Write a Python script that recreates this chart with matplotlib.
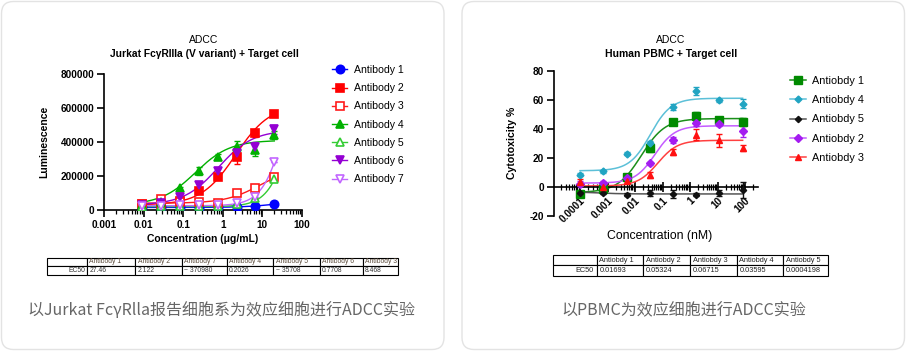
import numpy as np
import matplotlib
matplotlib.use('Agg')
import matplotlib.pyplot as plt
from matplotlib.patches import FancyBboxPatch
from matplotlib.lines import Line2D
import matplotlib.ticker as mticker

plt.rcParams['font.family'] = ['Liberation Sans', 'DejaVu Sans']

# ---------------- Left chart data (Jurkat reporter) ----------------
left_conc = [0.0091, 0.027, 0.082, 0.247, 0.74, 2.22, 6.67, 20]
left_labels = ['Antibody 1', 'Antibody 2', 'Antibody 3', 'Antibody 4',
               'Antibody 5', 'Antibody 6', 'Antibody 7']
ab1 = [15000, 16000, 15000, 14000, 16000, 18000, 23000, 36000]
ab2 = [33000, 38000, 53000, 114000, 196000, 310000, 451000, 567000]
ab3 = [35000, 65000, 49000, 45000, 43000, 98000, 128000, 192000]
ab4 = [30000, 45000, 128000, 229000, 314000, 373000, 353000, 441000]
ab5 = [20000, 22000, 22000, 22000, 25000, 35000, 69000, 185000]
ab6 = [28000, 40000, 75000, 147000, 231000, 335000, 372000, 475000]
ab7 = [25000, 25000, 28000, 28000, 30000, 39000, 78000, 284000]
ab1_err = [0, 0, 0, 0, 0, 0, 0, 0]
ab2_err = [0, 0, 0, 10000, 15000, 40000, 20000, 10000]
ab3_err = [0, 0, 0, 0, 0, 0, 0, 0]
ab4_err = [0, 0, 10000, 25000, 15000, 30000, 35000, 25000]
ab5_err = [0, 0, 0, 0, 0, 0, 0, 0]
ab6_err = [0, 0, 0, 15000, 15000, 30000, 30000, 25000]
ab7_err = [0, 0, 0, 0, 0, 0, 0, 0]
# fitted 4PL parameters: bottom, top, EC50, hill
left_fit_bottom = [15000, 30000, 40000, 30000, 20000, 30000, 25000]
left_fit_top = [60000, 620000, 250000, 410000, 1000000, 470000, 1000000]
left_fit_ec50 = [27.46, 2.122, 8.468, 0.2026, 60, 0.7708, 40]
left_fit_hill = [1.0, 1.0, 1.0, 1.0, 1.5, 1.0, 1.5]
left_xticks = [0.001, 0.01, 0.1, 1, 10, 100]
left_xticklabels = ['0.001', '0.01', '0.1', '1', '10', '100']
left_yticks = [0, 200000, 400000, 600000, 800000]
left_table_head = ['', 'Antibody 1', 'Antibody 2', 'Antibody 7', 'Antibody 4',
                   'Antibody 5', 'Antibody 6', 'Antibody 3']
left_table_vals = ['EC50', '27.46', '2.122', '~ 370980', '0.2026', '~ 35708',
                   '0.7708', '8.468']

# ---------------- Right chart data (PBMC) ----------------
right_conc = [0.0001, 0.0007, 0.0049, 0.034, 0.24, 1.68, 11.8, 82]
right_labels = ['Antiobdy 1', 'Antiobdy 4', 'Antiobdy 5', 'Antiobdy 2', 'Antiobdy 3']
r1 = [-4.9, -1.4, 6.7, 26.7, 44.7, 48.6, 46.3, 44.7]
r4 = [8.3, 10.6, 22.8, 29.8, 54.7, 66.0, 59.7, 57.2]
r5 = [-4.0, -4.0, -5.5, -4.5, -5.0, -5.5, -4.5, -2.0]
r2 = [2.1, 2.8, 6.2, 16.3, 32.0, 43.6, 43.1, 38.3]
r3 = [3.2, -0.5, 4.0, 7.8, 24.0, 36.0, 32.0, 26.7]
r1_err = [1.5, 1.5, 2.0, 2.5, 2.0, 3.0, 1.5, 3.0]
r4_err = [1.0, 1.0, 1.0, 1.5, 2.0, 3.0, 1.0, 3.0]
r5_err = [1.0, 1.0, 1.0, 2.0, 2.5, 1.0, 2.0, 5.5]
r2_err = [1.5, 1.0, 1.0, 1.0, 2.0, 2.0, 1.5, 4.0]
r3_err = [2.0, 1.5, 1.0, 2.0, 2.0, 3.5, 4.5, 2.0]
right_fit_bottom = [-4.0, 11.0, -3.5, 2.5, 0.5]
right_fit_top = [47.0, 61.0, -5.0, 42.0, 32.0]
right_fit_ec50 = [0.0169, 0.036, 0.00042, 0.053, 0.067]
right_fit_hill = [1.0, 1.15, 1.0, 1.2, 1.2]
right_xticks = [0.0001, 0.001, 0.01, 0.1, 1, 10, 100]
right_xticklabels = ['0.0001', '0.001', '0.01', '0.1', '1', '10', '100']
right_yticks = [-20, 0, 20, 40, 60, 80]
right_table_head = ['', 'Antiobdy 1', 'Antiobdy 2', 'Antiobdy 3', 'Antiobdy 4', 'Antiobdy 5']
right_table_vals = ['EC50', '0.01693', '0.05324', '0.06715', '0.03595', '0.0004198']

caption_left = '以Jurkat FcγRlla报告细胞系为效应细胞进行ADCC实验'
caption_right = '以PBMC为效应细胞进行ADCC实验'

# ---------------- Figure ----------------
W, H = 906, 352
fig = plt.figure(figsize=(W / 100, H / 100), dpi=100)
fig.patch.set_facecolor('white')


def fx(px):
    return px / W


def fy(py):
    return 1 - py / H


bg = fig.add_axes([0, 0, 1, 1], zorder=-5)
bg.set_xlim(0, W)
bg.set_ylim(H, 0)
bg.axis('off')
for x0, x1 in [(1.5, 444), (462, 904.5)]:
    bg.add_patch(FancyBboxPatch((x0, 1.5), x1 - x0, 348, boxstyle='round,pad=0,rounding_size=12',
                                fc='white', ec='#e3e3e3', lw=1.0))


def fourpl(x, b, t, ec, h):
    return b + (t - b) / (1 + (ec / x) ** h)


TICKFS = 7.2
# ---------------- Left axes ----------------
axL = fig.add_axes([fx(104), fy(210), fx(302 - 104), (210 - 74) / H])
left_series = [ab1, ab2, ab3, ab4, ab5, ab6, ab7]
left_errs = [ab1_err, ab2_err, ab3_err, ab4_err, ab5_err, ab6_err, ab7_err]
left_colors = ['#0000ff', '#ff0000', '#ff1a1a', '#00b000', '#33cc33', '#9400d3', '#c266ff']
left_markers = ['o', 's', 's', '^', '^', 'v', 'v']
left_filled = [True, True, False, True, False, True, False]
xs = np.logspace(np.log10(left_conc[0]), np.log10(left_conc[-1]), 200)
handles = []
for i, ys in enumerate(left_series):
    c = left_colors[i]
    mfc = c if left_filled[i] else 'white'
    axL.plot(xs, fourpl(xs, left_fit_bottom[i], left_fit_top[i], left_fit_ec50[i], left_fit_hill[i]),
             color=c, lw=1.0, zorder=2)
    axL.errorbar(left_conc, ys, yerr=left_errs[i], fmt='none', ecolor=c, elinewidth=1.0,
                 capsize=2.5, capthick=1.0, zorder=3)
    axL.plot(left_conc, ys, ls='none', marker=left_markers[i], ms=6, mfc=mfc, mec=c,
             mew=1.2, zorder=4)
    handles.append(Line2D([], [], color=c, lw=1.0, marker=left_markers[i], ms=6, mfc=mfc,
                          mec=c, mew=1.2))

axL.set_xscale('log')
axL.set_xlim(0.001, 100)
axL.set_ylim(0, 800000)
axL.set_xticks(left_xticks)
axL.set_xticklabels(left_xticklabels)
axL.xaxis.set_minor_locator(mticker.LogLocator(base=10, subs=np.arange(2, 10)))
axL.xaxis.set_minor_formatter(mticker.NullFormatter())
axL.set_yticks(left_yticks)
axL.set_yticklabels([str(v) for v in left_yticks])
for s in ['top', 'right']:
    axL.spines[s].set_visible(False)
for s in ['left', 'bottom']:
    axL.spines[s].set_linewidth(1.2)
axL.tick_params(axis='both', which='major', length=5, width=1.2, labelsize=TICKFS, pad=2)
axL.tick_params(axis='x', which='minor', length=3, width=0.9)
for lab in axL.get_xticklabels() + axL.get_yticklabels():
    lab.set_fontweight('bold')
axL.set_xlabel('Concentration (μg/mL)', fontsize=7.5, fontweight='bold', labelpad=3)
axL.set_ylabel('Luminescence', fontsize=7.5, fontweight='bold', labelpad=8)
axL.patch.set_alpha(0)
fig.text(fx(204), fy(40), 'ADCC', ha='center', va='center', fontsize=7.5)
fig.text(fx(204), fy(54), 'Jurkat FcγRIIIa (V variant) + Target cell', ha='center',
         va='center', fontsize=7.4, fontweight='bold')
axL.legend(handles, left_labels, loc='upper left', bbox_to_anchor=(fx(332), fy(65)),
           bbox_transform=fig.transFigure, frameon=False, fontsize=7.6, handlelength=1.45,
           handletextpad=0.6, labelspacing=0.78, borderpad=0, borderaxespad=0)

# left table
axTL = fig.add_axes([fx(47), fy(275), fx(398 - 47), (275 - 257.5) / H])
axTL.axis('off')
lw_cols = [40, 48.3, 46.7, 45, 46.6, 46.7, 43.3, 34.7]
tot = sum(lw_cols)
tl = axTL.table(cellText=[left_table_head, left_table_vals], colWidths=[w / tot for w in lw_cols],
                bbox=[0, 0, 1, 1], cellLoc='left')
tl.auto_set_font_size(False)
for (r, c), cell in tl.get_celld().items():
    cell.set_linewidth(0.8)
    cell.set_edgecolor('black')
    cell.get_text().set_fontsize(4.9)
    cell.PAD = 0.05
    if r == 0:
        cell.get_text().set_color('#5a4a3a')
    else:
        cell.get_text().set_color('#333333')
    if c == 0:
        cell.get_text().set_ha('right')
        cell._loc = 'right'

# ---------------- Right axes ----------------
axR = fig.add_axes([fx(554), fy(215.7), fx(758 - 554), (215.7 - 70.7) / H])
right_series = [r1, r4, r5, r2, r3]
right_errs = [r1_err, r4_err, r5_err, r2_err, r3_err]
right_colors = ['#008a00', '#21a4c2', '#111111', '#a41cf0', '#ff1010']
right_line_colors = ['#1a8f1a', '#5cc0d8', '#555555', '#c45cff', '#ff4040']
right_markers = ['s', 'D', 'D', 'D', '^']
right_ms = [5.5, 3.5, 3.2, 3.8, 5.0]
xr = np.logspace(np.log10(right_conc[0]), np.log10(right_conc[-1]), 200)
rhandles = []
for i, ys in enumerate(right_series):
    c = right_colors[i]
    axR.plot(xr, fourpl(xr, right_fit_bottom[i], right_fit_top[i], right_fit_ec50[i], right_fit_hill[i]),
             color=right_line_colors[i], lw=1.1, zorder=2)
    axR.errorbar(right_conc, ys, yerr=right_errs[i], fmt='none', ecolor=c, elinewidth=1.0,
                 capsize=2.5, capthick=1.0, zorder=3)
    axR.plot(right_conc, ys, ls='none', marker=right_markers[i], ms=right_ms[i], mfc=c, mec=c,
             zorder=4)
    rhandles.append(Line2D([], [], color=right_line_colors[i], lw=1.1, marker=right_markers[i],
                           ms=right_ms[i], mfc=c, mec=c))

axR.set_xscale('log')
axR.set_xlim(1.13e-5, 297)
axR.set_ylim(-20, 80)
axR.set_xticks(right_xticks)
axR.set_xticklabels(right_xticklabels)
axR.xaxis.set_minor_locator(mticker.LogLocator(base=10, subs=np.arange(2, 10), numticks=20))
axR.xaxis.set_minor_formatter(mticker.NullFormatter())
axR.set_yticks(right_yticks)
axR.set_yticklabels([str(v) for v in right_yticks])
for s in ['top', 'right']:
    axR.spines[s].set_visible(False)
axR.spines['bottom'].set_position(('data', 0))
for s in ['left', 'bottom']:
    axR.spines[s].set_linewidth(1.2)
axR.tick_params(axis='y', which='major', length=5, width=1.2, labelsize=TICKFS, pad=2)
axR.tick_params(axis='x', which='major', direction='inout', length=7, width=1.2,
                labelsize=TICKFS, pad=3, labelrotation=45)
axR.tick_params(axis='x', which='minor', direction='inout', length=4, width=0.9)
for lab in axR.get_xticklabels():
    lab.set_fontweight('bold')
    lab.set_rotation(45)
    lab.set_ha('right')
    lab.set_va('top')
    lab.set_rotation_mode('anchor')
for lab in axR.get_yticklabels():
    lab.set_fontweight('bold')
axR.set_ylabel('Cytotoxicity %', fontsize=7.6, fontweight='bold', labelpad=9)
axR.patch.set_alpha(0)
fig.text(fx(660), fy(236), 'Concentration (nM)', ha='center', va='center', fontsize=8.8)
fig.text(fx(671), fy(40), 'ADCC', ha='center', va='center', fontsize=7.5)
fig.text(fx(671), fy(54), 'Human PBMC + Target cell', ha='center', va='center',
         fontsize=7.5, fontweight='bold')
axR.legend(rhandles, right_labels, loc='upper left', bbox_to_anchor=(fx(790), fy(76)),
           bbox_transform=fig.transFigure, frameon=False, fontsize=7.8, handlelength=1.45,
           handletextpad=0.6, labelspacing=0.85, borderpad=0, borderaxespad=0)

# right table
axTR = fig.add_axes([fx(553.3), fy(275.7), fx(828 - 553.3), (275.7 - 255) / H])
axTR.axis('off')
rw_cols = [43.4, 46.6, 46.7, 46.7, 46.6, 44.7]
tot = sum(rw_cols)
tr = axTR.table(cellText=[right_table_head, right_table_vals], colWidths=[w / tot for w in rw_cols],
                bbox=[0, 0, 1, 1], cellLoc='left')
tr.auto_set_font_size(False)
for (r, c), cell in tr.get_celld().items():
    cell.set_linewidth(0.8)
    cell.set_edgecolor('black')
    cell.get_text().set_fontsize(5.3)
    cell.PAD = 0.06
    cell.get_text().set_color('#222222')
    if c == 0:
        cell.get_text().set_ha('right')
        cell._loc = 'right'

# captions
cjk = ['Noto Sans CJK SC', 'DejaVu Sans']
fig.text(fx(222), fy(311), caption_left, ha='center', va='center', fontsize=11.5,
         color='#666666', family=cjk)
fig.text(fx(684), fy(311), caption_right, ha='center', va='center', fontsize=11.5,
         color='#666666', family=cjk)

fig.savefig('out.png', dpi=100, facecolor='white')
